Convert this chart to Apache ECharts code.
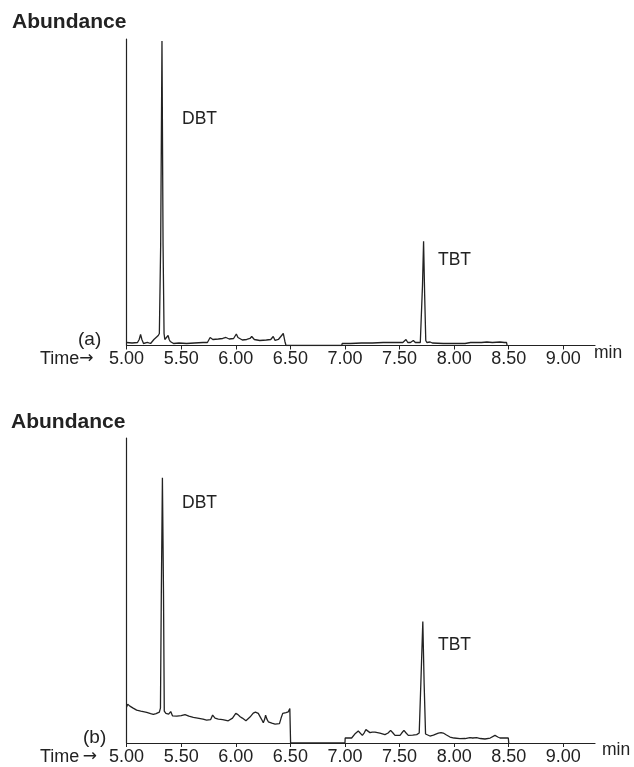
<!DOCTYPE html>
<html>
<head>
<meta charset="utf-8">
<script src="https://cdn.jsdelivr.net/npm/echarts@6/dist/echarts.min.js"></script>
<style>
html,body{margin:0;padding:0;background:#fff;}
#chart{width:634px;height:767px;}
</style>
</head>
<body>
<div id="chart"></div>
<script>
// ---- data (time in min, abundance in arbitrary units) ----
var tickValues = [5.0, 5.5, 6.0, 6.5, 7.0, 7.5, 8.0, 8.5, 9.0];

var timesA = [5.00,5.05,5.10,5.115,5.128,5.14,5.155,5.19,5.22,5.25,5.27,5.29,5.30,5.312,5.324,5.334,5.343,5.35,5.365,5.38,5.39,5.40,5.43,5.48,5.55,5.62,5.70,5.74,5.765,5.79,5.84,5.88,5.91,5.94,5.98,6.005,6.02,6.06,6.10,6.13,6.146,6.17,6.22,6.28,6.32,6.343,6.36,6.39,6.42,6.435,6.45,6.46,6.97,6.975,7.05,7.15,7.25,7.35,7.45,7.53,7.559,7.575,7.60,7.626,7.645,7.69,7.70,7.71,7.72,7.73,7.74,7.75,7.78,7.80,7.90,8.00,8.10,8.15,8.25,8.30,8.35,8.42,8.46,8.48,8.485];
var abundA = [3,2.5,3,6,11,6,2,3,2,6,8,10,12,100,304,100,12,6,5,10,6,4,2,2.5,2,2.5,3,3,8,6,6.5,7,8,6.5,7,11.5,8,5.5,6,7,9,6,5,5.5,6,9,5,6,10,12,4,0,0,2,2,2.5,2.5,3,3,3,6,3,3,5,3,3,4,60,104,50,5,3,3.5,2.5,2,2,2,3,3,3.5,3,3.5,3,3,0];

var timesB = [5.00,5.01,5.03,5.06,5.092,5.13,5.184,5.22,5.245,5.27,5.30,5.31,5.318,5.328,5.338,5.345,5.36,5.385,5.404,5.42,5.46,5.50,5.535,5.57,5.611,5.65,5.70,5.733,5.77,5.788,5.81,5.84,5.88,5.931,5.97,6.00,6.02,6.04,6.05,6.06,6.093,6.13,6.16,6.18,6.206,6.235,6.252,6.265,6.273,6.285,6.298,6.33,6.36,6.40,6.415,6.43,6.46,6.481,6.495,6.50,6.502,7.00,7.002,7.061,7.09,7.122,7.14,7.159,7.175,7.192,7.229,7.25,7.275,7.32,7.366,7.395,7.418,7.44,7.458,7.504,7.52,7.54,7.56,7.58,7.62,7.657,7.68,7.695,7.713,7.725,7.738,7.778,7.81,7.855,7.88,7.90,7.93,7.962,8.00,8.053,8.10,8.145,8.17,8.206,8.24,8.282,8.33,8.374,8.40,8.42,8.496,8.50];
var abundB = [36,39,37,35,33,32,30.7,29.5,28.7,29.5,31,35,150,266,150,32,29.7,29,31.5,27.3,27,27.5,28.5,27,25.7,25,24,23,23.5,28,25,24,23.5,22.3,25,29.7,28.5,26.3,28,25,22.3,26,30,31,29.7,24,20.3,24,28,24,21.3,20,19,19.5,25,29.7,30.5,31.3,34.7,34.7,0,0,5,5,9,12,10,7.7,10,13.4,10.4,11,11,10,8.4,10,12.7,10,7.7,7.7,10,12.7,10,7.7,8,8.4,10,60,122,60,9,7,8,10,10.5,10,8,6,5,4.4,4.5,5.4,5,5.4,4.5,4,5,7.7,6,5,5,0];

var peakLabels = ['DBT', 'TBT'];
var panelLabels = ['(a)', '(b)'];

function pairs(t, v) { return t.map(function (x, i) { return [x, v[i]]; }); }

var FONT = "'Liberation Sans', Arial, sans-serif";
var INK = '#222';

function xAxisCfg(idx) {
  return {
    type: 'value', gridIndex: idx, min: 5, max: 9.29, interval: 0.5,
    axisLine: { show: true, onZero: false, lineStyle: { color: INK, width: 1.2 } },
    axisTick: { show: true, inside: false, length: 4, customValues: tickValues, lineStyle: { color: INK, width: 1 } },
    axisLabel: { show: true, customValues: tickValues, margin: 5, fontSize: 18, color: INK, fontFamily: FONT,
      formatter: function (v) { return v.toFixed(2); } },
    splitLine: { show: false }
  };
}
function yAxisCfg(idx) {
  return {
    type: 'value', gridIndex: idx, min: 0, max: 306,
    axisLine: { show: true, lineStyle: { color: INK, width: 1.2 } },
    axisTick: { show: false }, axisLabel: { show: false }, splitLine: { show: false }
  };
}
function txt(text, x, y, size, bold) {
  return { type: 'text', x: x, y: y, silent: true,
    style: { text: text, fill: INK, font: (bold ? 'bold ' : '') + size + 'px ' + FONT,
      align: 'left', verticalAlign: 'middle' } };
}
function timeTxt(sep, x, y) {
  return { type: 'text', x: x, y: y, silent: true,
    style: { text: '{t|Time}' + sep + '{r|\u2192}', align: 'left', verticalAlign: 'middle',
      rich: {
        t: { fontSize: 18, fontFamily: FONT, fill: INK, color: INK },
        r: { fontSize: 17, fontFamily: "'DejaVu Sans', sans-serif", fill: INK, color: INK }
      } } };
}

var chart = echarts.init(document.getElementById('chart'), null, { renderer: 'canvas' });
chart.setOption({
  animation: false,
  backgroundColor: '#fff',
  grid: [
    { left: 126.6, top: 39, width: 468.4, height: 306.5 },
    { left: 126.6, top: 438, width: 468.4, height: 305 }
  ],
  xAxis: [xAxisCfg(0), xAxisCfg(1)],
  yAxis: [yAxisCfg(0), yAxisCfg(1)],
  series: [
    { type: 'line', xAxisIndex: 0, yAxisIndex: 0, data: pairs(timesA, abundA), showSymbol: false,
      lineStyle: { color: INK, width: 1.3 }, silent: true },
    { type: 'line', xAxisIndex: 1, yAxisIndex: 1, data: pairs(timesB, abundB), showSymbol: false,
      lineStyle: { color: INK, width: 1.3 }, silent: true }
  ],
  graphic: [
    txt('Abundance', 12, 22, 21, true),
    txt('Abundance', 11, 422, 21, true),
    txt(peakLabels[0], 182, 119, 17.5),
    txt(peakLabels[0], 182, 503, 17.5),
    txt(peakLabels[1], 438, 260, 17.5),
    txt(peakLabels[1], 438, 645, 17.5),
    txt(panelLabels[0], 78, 340, 19),
    txt(panelLabels[1], 83, 738, 19),
    timeTxt('', 40, 359),
    timeTxt(' ', 40, 757),
    txt('min', 594, 353, 17.5),
    txt('min', 602, 750, 17.5)
  ]
});
</script>
</body>
</html>
